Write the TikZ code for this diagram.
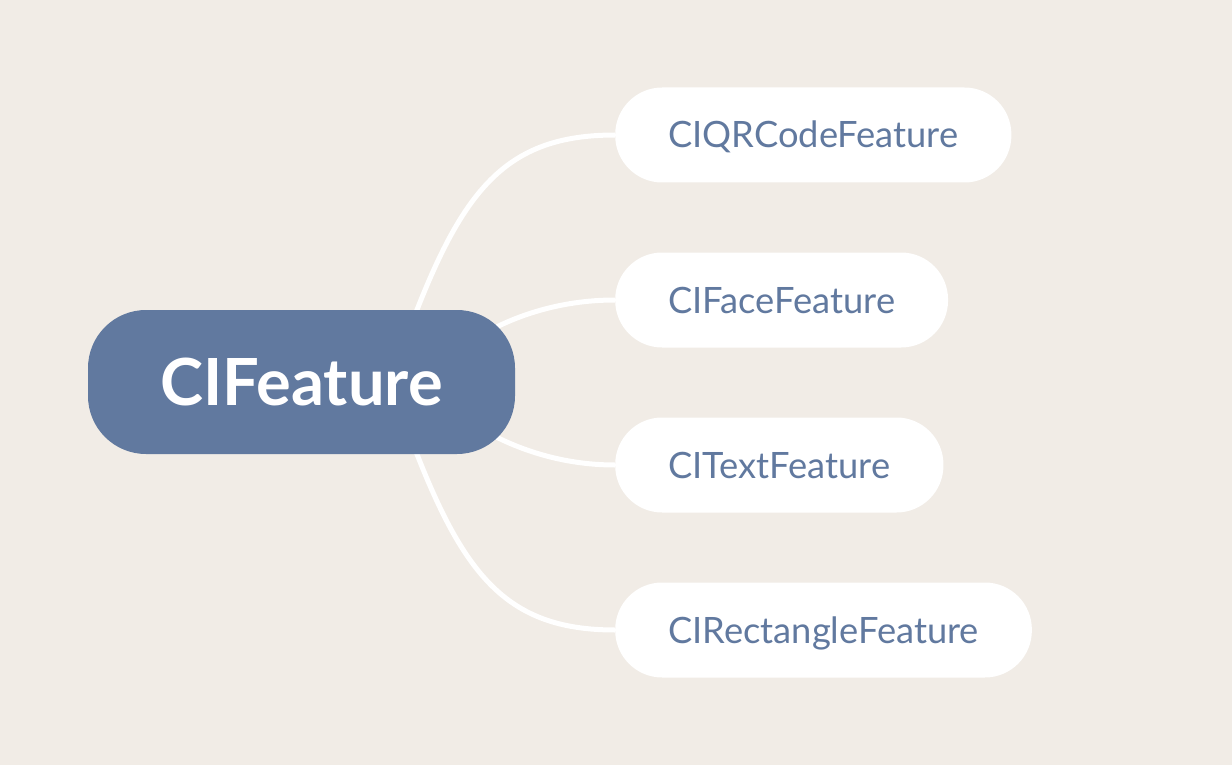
\documentclass[tikz,border=0pt]{standalone}
\usepackage{fontspec}
\setmainfont{Lato}
\definecolor{paper}{HTML}{F1ECE6}
\definecolor{slate}{HTML}{61799F}
\tikzset{root/.style = {fill=slate, text=white, rounded corners=58pt, minimum width=427pt,
                        minimum height=144pt, inner sep=0pt, text height=46.6pt, text depth=0pt,
                        font=\fontsize{65}{72}\selectfont\bfseries},
         leaf/.style = {fill=white, text=slate, rounded corners=47pt, minimum height=95pt,
                        inner xsep=53pt, inner ysep=0pt, text height=26pt, text depth=0pt,
                        anchor=west, font=\fontsize{36.3}{40}\selectfont},
         wire/.style = {draw=white, line width=5pt}}
\begin{document}
\begin{tikzpicture}[x=1pt, y=-1pt]
    \fill[paper] (0,0) rectangle (1232,765);
    \useasboundingbox (0,0) rectangle (1232,765);
    % hidden ends of the wires, inside the root
    \coordinate (r1) at (410,328); \coordinate (r2) at (470,342);
    \coordinate (r3) at (470,422); \coordinate (r4) at (410,436);
    \node[leaf] (qr)   at (615,135) {CIQRCodeFeature};
    \node[leaf] (face) at (615,300) {CIFaceFeature};
    \node[leaf] (text) at (615,465) {CITextFeature};
    \node[leaf] (rect) at (615,630) {CIRectangleFeature};
    \draw[wire] (r1) .. controls (462,190) and (505,135) .. (qr.west);
    \draw[wire] (r2) .. controls (510,316) and (560,300) .. (face.west);
    \draw[wire] (r3) .. controls (510,448) and (560,465) .. (text.west);
    \draw[wire] (r4) .. controls (462,574) and (505,630) .. (rect.west);
    \node[root] (feat) at (301.5,382) {CIFeature};
\end{tikzpicture}
\end{document}
